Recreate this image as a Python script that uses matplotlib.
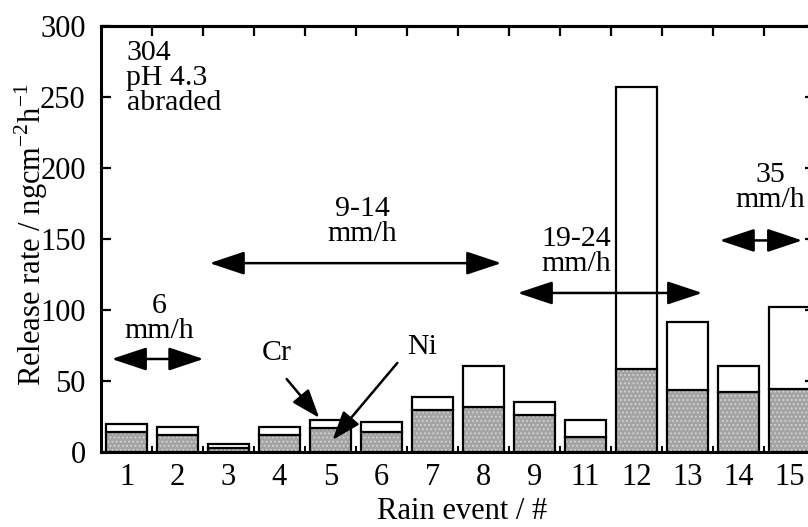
import numpy as np
import matplotlib
matplotlib.use("Agg")
import matplotlib.pyplot as plt

plt.rcParams['font.family'] = ['Liberation Serif', 'DejaVu Serif']
plt.rcParams['mathtext.fontset'] = 'custom'
plt.rcParams['mathtext.rm'] = 'Liberation Serif'
plt.rcParams['hatch.linewidth'] = 0.8

events = ["1", "2", "3", "4", "5", "6", "7", "8", "9", "11", "12", "13", "14", "15"]
ni = [13.9, 12.0, 2.6, 11.7, 16.9, 14.1, 29.8, 31.7, 26.2, 10.3, 58.4, 43.8, 42.2, 44.4]
cr = [5.6, 5.6, 3.0, 5.9, 5.8, 7.0, 8.9, 28.6, 8.9, 12.3, 198.4, 48.0, 18.1, 57.9]

x = np.arange(len(events))

fig = plt.figure(figsize=(8.08, 5.27), dpi=100)
ax = fig.add_axes([101/808, 75/527, 714/808, 426/527])

# Ni (grey, dotted) with Cr stacked on top (white)
ax.bar(x, ni, width=0.8, color="#a4a4a4", hatch="....", edgecolor="#d4d4d4", linewidth=0)
ax.bar(x, ni, width=0.8, fill=False, edgecolor="black", linewidth=1.6)
ax.bar(x, cr, width=0.8, bottom=ni, color="white", edgecolor="black", linewidth=1.6)

ax.set_xlim(-0.5, len(events) - 0.5)
ax.set_ylim(0, 300)
ax.set_yticks(np.arange(0, 301, 50))
ax.set_xticks(x)
ax.set_xticklabels(events)
ax.set_xticks(np.arange(0.5, len(events) - 0.5, 1), minor=True)

for s in ax.spines.values():
    s.set_linewidth(2.2)

ax.tick_params(axis="y", direction="in", length=7, width=1.6, labelsize=22, pad=11, right=True)
ax.tick_params(axis="x", which="major", length=0, labelsize=22, pad=8)
ax.tick_params(axis="x", which="minor", direction="in", length=4, width=1.4, bottom=True)

top = ax.secondary_xaxis("top")
top.set_xticks(np.arange(0.5, len(events) - 0.5, 1))
top.tick_params(direction="in", length=7, width=1.6, labeltop=False)
top.spines["top"].set_linewidth(2.2)

ax.set_ylabel("Release rate / ngcm$^{\\mathrm{-2}}$h$^{\\mathrm{-1}}$", fontsize=22)
ax.yaxis.set_label_coords(-0.072, 0.51)
ax.set_xlabel("Rain event / #", fontsize=22)
ax.xaxis.set_label_coords(0.506, -0.106)

ax.text(0.0, 290, "304\npH 4.3\nabraded", fontsize=21.5, ha="left", va="top", linespacing=0.95)

arr = dict(arrowstyle="<|-|>,head_length=1.2,head_width=0.4", color="black", lw=1.8,
           mutation_scale=18, shrinkA=0, shrinkB=0)
ranges = [
    ("6\nmm/h", 0.65, 94, -0.29, 1.51, 65.5),
    ("9-14\nmm/h", 4.62, 162, 1.63, 7.35, 133),
    ("19-24\nmm/h", 8.82, 141, 7.67, 11.29, 112),
    ("35\nmm/h", 12.63, 186, 11.63, 13.25, 149),
]
for label, tx, ty, x0, x1, ya in ranges:
    ax.text(tx, ty, label, fontsize=21.5, ha="center", va="center", linespacing=0.95)
    ax.annotate("", xy=(x1, ya), xytext=(x0, ya), arrowprops=arr)

one = dict(arrowstyle="-|>,head_length=1.1,head_width=0.4", color="black", lw=1.8,
           mutation_scale=16, shrinkA=0, shrinkB=0)
ax.text(2.94, 70, "Cr", fontsize=21.5, ha="center", va="center")
ax.annotate("", xy=(3.78, 24), xytext=(3.14, 51.4), arrowprops=one)
ax.text(5.8, 74, "Ni", fontsize=21.5, ha="center", va="center")
ax.annotate("", xy=(4.04, 8.5), xytext=(5.31, 62.7), arrowprops=one)

fig.savefig("out.png", dpi=100)
